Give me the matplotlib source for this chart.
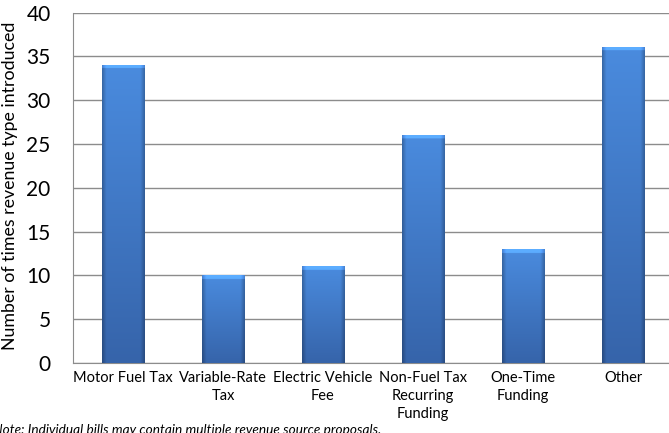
import numpy as np
import matplotlib
matplotlib.use("Agg")
import matplotlib.pyplot as plt
from matplotlib.colors import to_rgb

# Données du graphique
categories = ["Motor Fuel Tax", "Variable-Rate\nTax", "Electric Vehicle\nFee",
              "Non-Fuel Tax\nRecurring\nFunding", "One-Time\nFunding", "Other"]
counts = [34, 10, 11, 26, 13, 36]
y_ticks = [0, 5, 10, 15, 20, 25, 30, 35, 40]
y_label = "Number of times revenue type introduced"
note = "Note: Individual bills may contain multiple revenue source proposals."

plt.rcParams['font.family'] = ['Lato', 'DejaVu Sans']

fig = plt.figure(figsize=(6.69, 4.33), dpi=100)
ax = fig.add_axes([0.109, 0.1617, 0.897, 0.809])

x = np.arange(len(categories))
bars = ax.bar(x, counts, width=0.42, color="#3F7BCB", edgecolor="none", zorder=2)

# Dégradé sur chaque barre (effet biseauté)
top_col = np.array(to_rgb("#4A8BDE"))
bot_col = np.array(to_rgb("#3664AA"))
for b in bars:
    x0, y0 = b.get_x(), b.get_y()
    w, h = b.get_width(), b.get_height()
    ny, nx = 200, 60
    t = np.linspace(0, 1, ny)[:, None, None]
    img = top_col * (1 - t) + bot_col * t
    u = np.linspace(-1, 1, nx)
    shade = 1 - 0.25 * np.clip((np.abs(u) - 0.8) / 0.2, 0, 1)
    img = img * shade[None, :, None]
    # liseré clair en haut
    rows = max(int(ny * min(0.012 * 40 / max(h, 1), 0.3)), 2)
    img[:rows] = np.clip(img[:rows] * 1.25, 0, 1)
    ax.imshow(img, extent=(x0, x0 + w, y0, y0 + h),
              aspect="auto", origin="upper", zorder=3)

ax.set_xlim(-0.5, len(categories) - 0.5)
ax.set_ylim(0, 40)
ax.set_yticks(y_ticks)
ax.set_xticks(x)
ax.set_xticklabels(categories, fontsize=10.5, linespacing=1.35)
ax.tick_params(axis="y", labelsize=15, length=0, pad=16)
ax.tick_params(axis="x", length=0, pad=6)
ax.yaxis.grid(True, color="#8C8C8C", linewidth=1, zorder=1)
ax.set_axisbelow(True)
for side in ["top", "right"]:
    ax.spines[side].set_visible(False)
for side in ["left", "bottom"]:
    ax.spines[side].set_color("#8C8C8C")
ax.set_ylabel(y_label, fontsize=12.8)
ax.yaxis.set_label_coords(-0.092, 0.507)

fig.text(-0.01, -0.008, note, fontsize=9.8, style="italic", ha="left", va="bottom")

fig.savefig("out.png", dpi=100)
